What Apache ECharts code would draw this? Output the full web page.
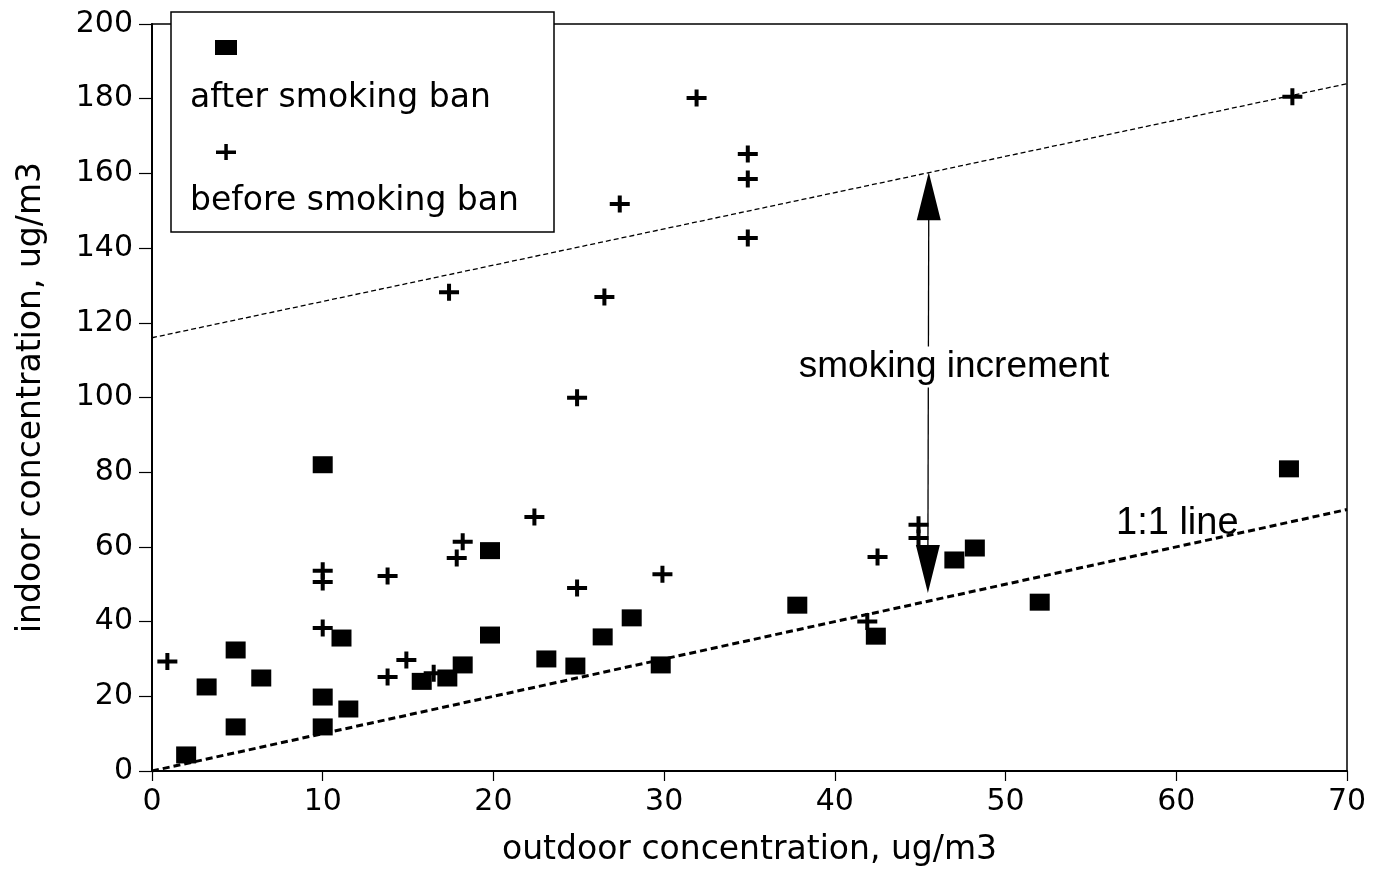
<!DOCTYPE html>
<html>
<head>
<meta charset="utf-8">
<style>
  html, body { margin: 0; padding: 0; background: #ffffff; }
  #chart { width: 1384px; height: 879px; }
</style>
<script src="https://cdn.jsdelivr.net/npm/echarts@6/dist/echarts.min.js"></script>
</head>
<body>
<div id="chart"></div>
<script>
// ---- data ----
const afterBan = [
  [2.0, 4.3], [3.2, 22.5], [4.9, 32.4], [4.9, 11.8], [6.4, 24.9],
  [10.0, 82.0], [10.0, 19.8], [10.0, 11.8], [11.1, 35.6], [11.5, 16.6],
  [15.8, 24.0], [17.3, 24.9], [18.2, 28.4], [19.8, 59.0], [19.8, 36.4],
  [23.1, 30.0], [24.8, 28.1], [26.4, 35.9], [28.1, 41.0], [29.8, 28.4],
  [37.8, 44.4], [42.4, 36.1], [47.0, 56.5], [48.2, 59.7], [52.0, 45.2],
  [66.6, 80.9]
];
const beforeBan = [
  [0.9, 29.3], [10.0, 53.6], [10.0, 50.6], [10.0, 38.3], [13.8, 52.2],
  [13.8, 25.2], [14.9, 29.7], [16.5, 26.2], [17.4, 128.2], [17.85, 57.0],
  [18.2, 61.4], [22.4, 68.0], [24.9, 99.9], [24.9, 49.0], [26.5, 126.9],
  [27.4, 151.8], [29.9, 52.7], [31.9, 180.2], [34.9, 165.2], [34.9, 158.5],
  [34.9, 142.7], [41.9, 40.0], [42.5, 57.3], [44.9, 65.9], [44.9, 62.4],
  [66.8, 180.5]
];
const oneToOneLine = [[0, 0], [70, 70]];
const smokingLine = [[0, 116], [70, 184]];
const incrementShaft = [[45.5, 149], [45.45, 58]];
const arrowUp = [[45.5, 153.9]];
const arrowDown = [[45.45, 54.1]];
const xTicks = { min: 0, max: 70, interval: 10 };
const yTicks = { min: 0, max: 200, interval: 20 };
const seriesNames = ['after smoking ban', 'before smoking ban'];
const axisNames = ['outdoor concentration, ug/m3', 'indoor concentration, ug/m3'];
const annotations = ['smoking increment', '1:1 line'];

// ---- chart ----
const crossPath = 'path://M0,6.5 L20,6.5 L20,10.5 L0,10.5 Z M8,0 L12,0 L12,17 L8,17 Z';
const FONT = 'DejaVu Sans';
const chart = echarts.init(document.getElementById('chart'), null, { renderer: 'canvas' });

const solid = { color: '#000', opacity: 1 };

const option = {
  backgroundColor: '#ffffff',
  animation: false,
  grid: {
    left: 152, right: 37, top: 24, bottom: 108,
    show: true, borderColor: '#000', borderWidth: 1.5, backgroundColor: 'transparent'
  },
  xAxis: {
    type: 'value', min: xTicks.min, max: xTicks.max, interval: xTicks.interval,
    name: axisNames[0], nameLocation: 'middle', nameGap: 63,
    nameTextStyle: { fontFamily: FONT, fontSize: 33, color: '#000' },
    axisLine: { show: true, lineStyle: { color: '#000', width: 2 } },
    axisTick: { show: true, length: 10, lineStyle: { color: '#000', width: 1.2 } },
    axisLabel: { fontFamily: FONT, fontSize: 30, color: '#000', margin: 16 },
    splitLine: { show: false }
  },
  yAxis: {
    type: 'value', min: yTicks.min, max: yTicks.max, interval: yTicks.interval,
    name: axisNames[1], nameLocation: 'middle', nameGap: 104, nameRotate: 90,
    nameTextStyle: { fontFamily: FONT, fontSize: 33, color: '#000' },
    axisLine: { show: true, lineStyle: { color: '#000', width: 2 } },
    axisTick: { show: true, length: 13, lineStyle: { color: '#000', width: 1.2 } },
    axisLabel: { fontFamily: FONT, fontSize: 30, color: '#000', margin: 19 },
    splitLine: { show: false }
  },
  series: [
    {
      type: 'line', data: smokingLine, symbol: 'none', silent: true, z: 1,
      lineStyle: { color: '#000', width: 1.3, type: [5, 3], opacity: 1 }
    },
    {
      type: 'line', data: oneToOneLine, symbol: 'none', silent: true, z: 1,
      lineStyle: { color: '#000', width: 3, type: [7, 4], opacity: 1 }
    },
    {
      type: 'line', data: incrementShaft, symbol: 'none', silent: true, z: 1,
      lineStyle: { color: '#000', width: 1.3, opacity: 1 }
    },
    {
      type: 'scatter', data: arrowUp, symbol: 'triangle', symbolSize: [24, 48], z: 2,
      itemStyle: solid, emphasis: { disabled: true }
    },
    {
      type: 'scatter', data: arrowDown, symbol: 'triangle', symbolRotate: 180, symbolSize: [24, 48], z: 2,
      itemStyle: solid, emphasis: { disabled: true }
    },
    {
      name: seriesNames[1], type: 'scatter', data: beforeBan, symbol: crossPath,
      symbolSize: [20, 17], z: 3, itemStyle: solid
    },
    {
      name: seriesNames[0], type: 'scatter', data: afterBan, symbol: 'rect',
      symbolSize: [20, 17], z: 4, itemStyle: solid
    }
  ],
  graphic: [
    // annotation texts
    {
      type: 'text', x: 954, y: 367, z: 10,
      style: {
        text: annotations[0], fontFamily: 'Liberation Sans', fontSize: 37, fill: '#000',
        align: 'center', verticalAlign: 'middle', backgroundColor: '#fff', padding: [2, 2]
      }
    },
    {
      type: 'text', x: 1116, y: 524, z: 10,
      style: {
        text: annotations[1], fontFamily: 'Liberation Sans', fontSize: 38, fill: '#000',
        align: 'left', verticalAlign: 'middle'
      }
    },
    // legend box
    {
      type: 'rect', z: 20,
      shape: { x: 171, y: 12, width: 383, height: 220 },
      style: { fill: '#fff', stroke: '#000', lineWidth: 1.5 }
    },
    {
      type: 'rect', z: 21,
      shape: { x: 215, y: 40, width: 22, height: 15 },
      style: { fill: '#000' }
    },
    {
      type: 'text', x: 190, y: 98, z: 21,
      style: { text: seriesNames[0], fontFamily: FONT, fontSize: 33, fill: '#000', align: 'left', verticalAlign: 'middle' }
    },
    {
      type: 'rect', z: 21,
      shape: { x: 216, y: 150.5, width: 20, height: 3.5 },
      style: { fill: '#000' }
    },
    {
      type: 'rect', z: 21,
      shape: { x: 224.3, y: 144, width: 3.5, height: 16 },
      style: { fill: '#000' }
    },
    {
      type: 'text', x: 190, y: 201, z: 21,
      style: { text: seriesNames[1], fontFamily: FONT, fontSize: 33, fill: '#000', align: 'left', verticalAlign: 'middle' }
    }
  ]
};
chart.setOption(option);
</script>
</body>
</html>
